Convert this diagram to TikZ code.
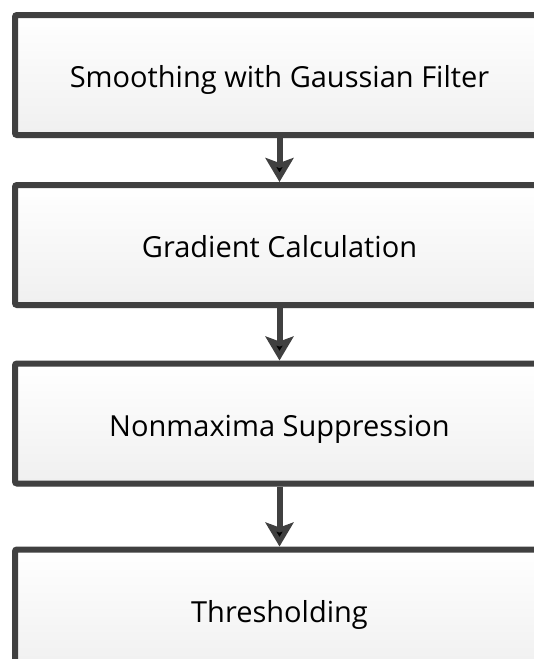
\documentclass[tikz,border=0pt]{standalone}
\usepackage{fontspec}
\setmainfont{Open Sans}
\usepackage{tikz}
\usetikzlibrary{arrows.meta, positioning, shadows}
\definecolor{edgegray}{RGB}{64,64,64}

\begin{document}
\begin{tikzpicture}[x=1pt, y=1pt,
    stage/.style = {draw=edgegray, line width=6pt, rounded corners=2pt,
        minimum width=529pt, minimum height=120pt, inner sep=0pt,
        text height=25pt, text depth=0pt,
        top color=white, bottom color=gray!12,
        drop shadow={opacity=0.2, shadow xshift=0pt, shadow yshift=-3pt},
        font=\fontsize{29}{35}\selectfont},
    flow/.style = {-{Stealth[length=24pt, width=28pt, inset=5pt]}, line width=6pt, draw=edgegray}]
    \useasboundingbox (0,0) rectangle (534,-659);
    \clip (0,0) rectangle (534,-659);

    \node[stage] (smooth) at (279.5,-75) {Smoothing with Gaussian Filter};
    \node[stage] (grad) [below=44pt of smooth] {Gradient Calculation};
    \node[stage] (nms) [below=52.5pt of grad] {Nonmaxima Suppression};
    \node[stage] (thresh) [below=60pt of nms] {Thresholding};

    \path[flow] (smooth) edge (grad);
    \path[flow] (grad) edge (nms);
    \path[flow] (nms) edge (thresh);
\end{tikzpicture}
\end{document}
